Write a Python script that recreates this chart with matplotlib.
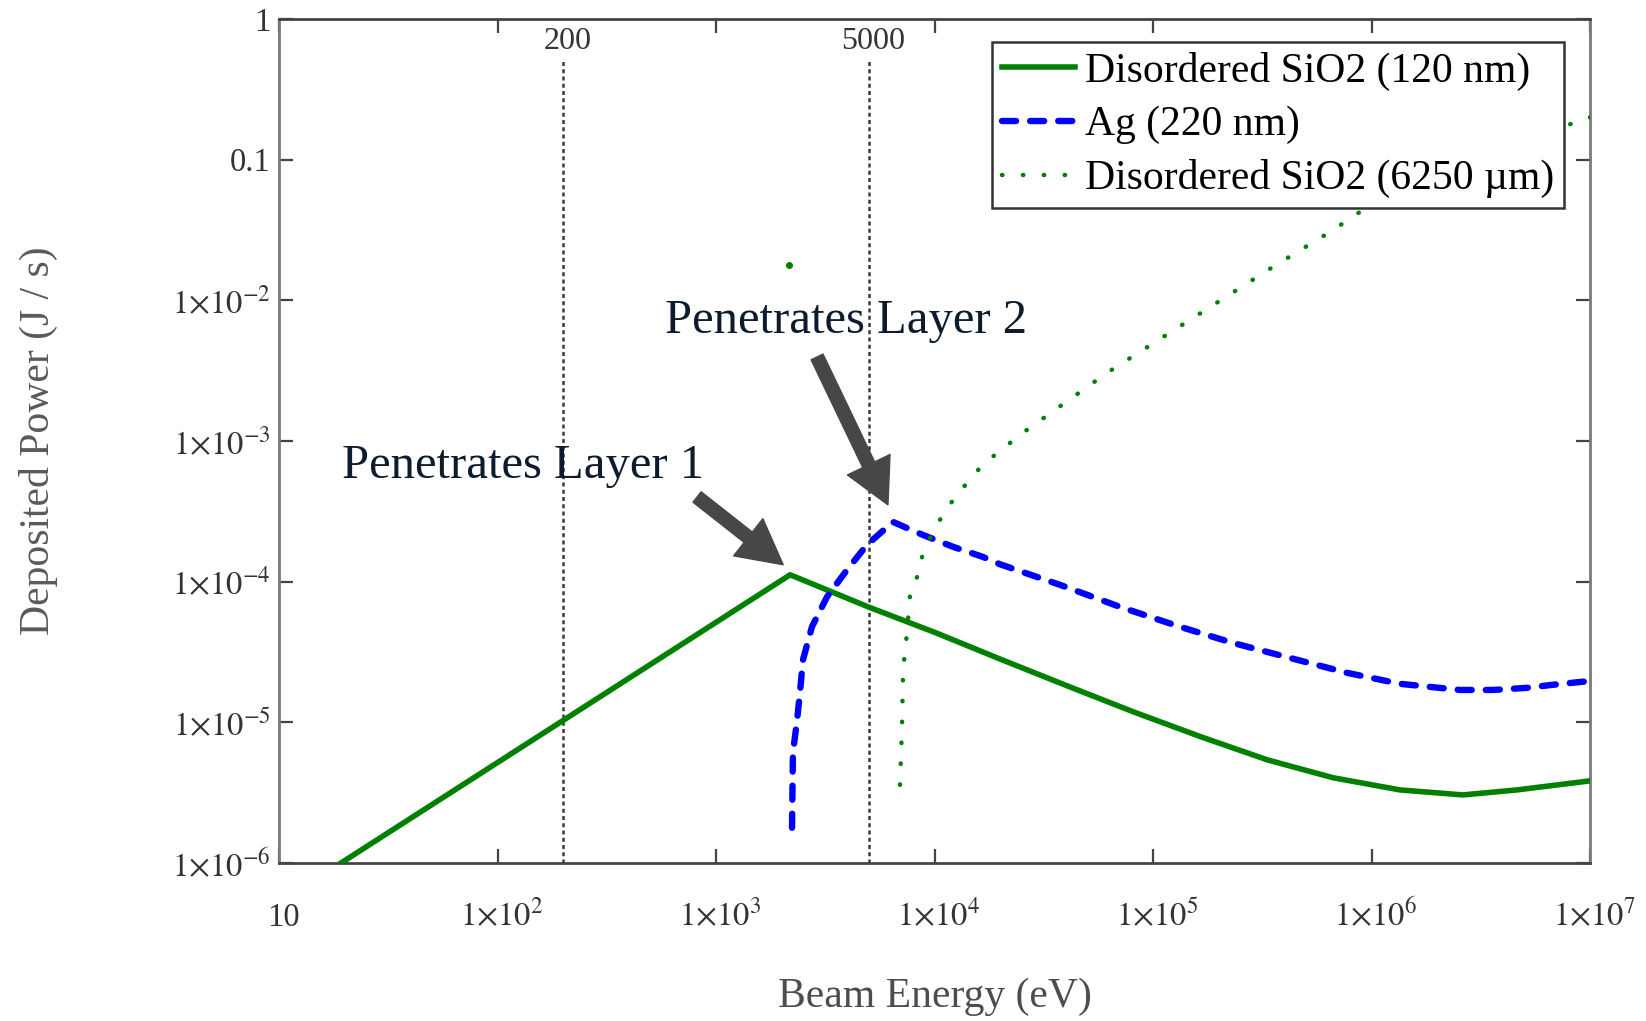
import matplotlib
matplotlib.use("Agg")
import matplotlib.pyplot as plt
from matplotlib.ticker import FixedLocator, FixedFormatter, NullLocator
import matplotlib.transforms as mtransforms

plt.rcParams['font.family'] = ['Liberation Serif', 'DejaVu Serif']
plt.rcParams['mathtext.fontset'] = 'stix'

# ---------------- data ----------------
sio2_thin_E = [19.2, 2183, 5000, 1.0e4, 1.995e4, 4.04e4, 8.11e4, 1.64e5, 3.33e5,
               6.67e5, 1.35e6, 2.62e6, 4.63e6, 1.0e7]
sio2_thin_P = [1.0e-6, 1.12e-4, 6.6e-5, 4.37e-5, 2.82e-5, 1.82e-5, 1.19e-5, 7.94e-6,
               5.42e-6, 4.04e-6, 3.31e-6, 3.05e-6, 3.31e-6, 3.84e-6]

ag_E = [2228, 2239, 2249, 2350, 2421, 2500, 2748, 3221, 3972, 4909, 6457, 8851,
        12160, 16670, 19950, 37500, 70630, 1.33e5, 2.32e5, 4.24e5, 7.73e5, 1.35e6,
        2.54e6, 3.6e6, 5.14e6, 6.76e6, 1.0e7]
ag_P = [1.78e-6, 3.48e-6, 6.07e-6, 1.04e-5, 1.62e-5, 2.78e-5, 4.78e-5, 7.8e-5,
        1.21e-4, 1.83e-4, 2.66e-4, 2.15e-4, 1.77e-4, 1.5e-4, 1.33e-4, 9.5e-5,
        6.62e-5, 4.78e-5, 3.67e-5, 2.87e-5, 2.25e-5, 1.88e-5, 1.70e-5, 1.70e-5,
        1.76e-5, 1.85e-5, 1.97e-5]

sio2_thick_E = [6950, 7100, 7180, 7480, 7730, 8320, 8770, 9550, 10590, 12160, 14090,
                16140, 19320, 26490, 61520, 1.476e5, 3.54e5, 6.67e5, 9.14e5, 9.0e6, 1.0e7]
sio2_thick_P = [3.6e-6, 9.3e-6, 2.36e-5, 4.33e-5, 8.05e-5, 1.08e-4, 1.5e-4, 2.05e-4,
                2.75e-4, 3.81e-4, 5.04e-4, 6.44e-4, 8.22e-4, 1.2e-3, 3.05e-3, 7.26e-3,
                0.0173, 0.0316, 0.044, 0.191, 0.2]
sio2_thick_stray_E = [2160]
sio2_thick_stray_P = [0.0179]

series_labels = ['Disordered SiO2 (120 nm)', 'Ag (220 nm)', 'Disordered SiO2 (6250 \u00b5m)']

marker_energies = [200, 5000]

x_ticks = [10, 1e2, 1e3, 1e4, 1e5, 1e6, 1e7]
x_tick_labels = ['10', r'$1{\times}10^{2}$', r'$1{\times}10^{3}$', r'$1{\times}10^{4}$',
                 r'$1{\times}10^{5}$', r'$1{\times}10^{6}$', r'$1{\times}10^{7}$']
y_ticks = [1e-6, 1e-5, 1e-4, 1e-3, 1e-2, 0.1, 1]
y_tick_labels = [r'$1{\times}10^{-6}$', r'$1{\times}10^{-5}$', r'$1{\times}10^{-4}$',
                 r'$1{\times}10^{-3}$', r'$1{\times}10^{-2}$', '0.1', '1']

annot1_text, annot1_xy, annot1_tip, annot1_tail = 'Penetrates Layer 1', (131, 5.47e-4), (2030, 1.32e-4), (819, 4.0e-4)
annot2_text, annot2_xy, annot2_tip, annot2_tail = 'Penetrates Layer 2', (3936, 5.86e-3), (6120, 3.52e-4), (2900, 3.96e-3)

# ---------------- figure ----------------
fig = plt.figure(figsize=(16.46, 10.21), dpi=100)
ax = fig.add_axes([0.1695, 0.1547, 0.7965, 0.8267])
ax.set_xscale('log')
ax.set_yscale('log')
ax.set_xlim(10, 1e7)
ax.set_ylim(1e-6, 1)

for e in marker_energies:
    ax.axvline(e, ymax=0.951, color='#3a3a3a', lw=1.8, ls=(0, (1.6, 1.3)), zorder=1.5)
    ax.annotate(f'{e:g}', xy=(e, 0.973), xycoords=('data', 'axes fraction'),
                xytext=(3, 0), textcoords='offset points', ha='center', va='center',
                fontsize=23, color='#333333')

l1, = ax.plot(sio2_thin_E, sio2_thin_P, color='#008000', lw=4.0, solid_joinstyle='round',
              label=series_labels[0], zorder=3)
l2, = ax.plot(ag_E, ag_P, color='#0000ff', lw=4.6, ls=(0, (2.2, 2.2)),
              dash_capstyle='round', label=series_labels[1], zorder=3)
l3, = ax.plot(sio2_thick_E, sio2_thick_P, color='#008000', lw=3.2, ls=(0, (0.1, 4.6)),
              dash_capstyle='round', label=series_labels[2], zorder=3)
ax.plot(sio2_thick_stray_E, sio2_thick_stray_P, ls='none', marker='o', ms=4,
        color='#008000', zorder=3)

# annotations
for txt, xy, tip, tail in [(annot1_text, annot1_xy, annot1_tip, annot1_tail),
                           (annot2_text, annot2_xy, annot2_tip, annot2_tail)]:
    ax.text(xy[0], xy[1], txt, ha='center', va='baseline', fontsize=35, color='#0d1b2e', zorder=5)
    ax.annotate('', xy=tip, xytext=tail,
                arrowprops=dict(arrowstyle='simple,head_length=3.2,head_width=3.4,tail_width=0.95',
                                mutation_scale=10, color='#474747', shrinkA=0, shrinkB=0),
                zorder=5)

# ticks
ax.xaxis.set_major_locator(FixedLocator(x_ticks))
ax.xaxis.set_major_formatter(FixedFormatter(x_tick_labels))
ax.xaxis.set_minor_locator(NullLocator())
ax.yaxis.set_major_locator(FixedLocator(y_ticks))
ax.yaxis.set_major_formatter(FixedFormatter(y_tick_labels))
ax.yaxis.set_minor_locator(NullLocator())
ax.tick_params(axis='both', which='major', direction='in', length=10, width=1.6,
               top=True, right=True, labelsize=23.5, labelcolor='#333333', color='#444444')
ax.tick_params(axis='x', pad=45)
ax.tick_params(axis='y', pad=6)
shift = mtransforms.ScaledTranslation(4 / 100, 0, fig.dpi_scale_trans)
for lab in ax.get_xticklabels():
    lab.set_verticalalignment('baseline')
    lab.set_transform(lab.get_transform() + shift)

for side in ['left', 'right']:
    ax.spines[side].set_color('#7a7a7a')
    ax.spines[side].set_linewidth(2.0)
for side in ['top', 'bottom']:
    ax.spines[side].set_color('#444444')
    ax.spines[side].set_linewidth(2.0)

ax.set_xlabel('Beam Energy (eV)', fontsize=30, color='#4d4d4d')
ax.xaxis.set_label_coords(0.5, -0.136)
ax.set_ylabel('Deposited Power (J / s)', fontsize=30, color='#5a5a5a')
ax.yaxis.set_label_coords(-0.1686, 0.5)

leg = ax.legend(handles=[l1, l2, l3], loc='upper right', bbox_to_anchor=(0.9802, 0.9727),
                borderaxespad=0, fontsize=30, frameon=True, fancybox=False,
                edgecolor='#333333', framealpha=1, borderpad=0.23, labelspacing=0.36,
                handlelength=1.75, handletextpad=0.25)
leg.get_frame().set_linewidth(1.8)
leg.set_zorder(6)

fig.savefig('out.png', dpi=100)
